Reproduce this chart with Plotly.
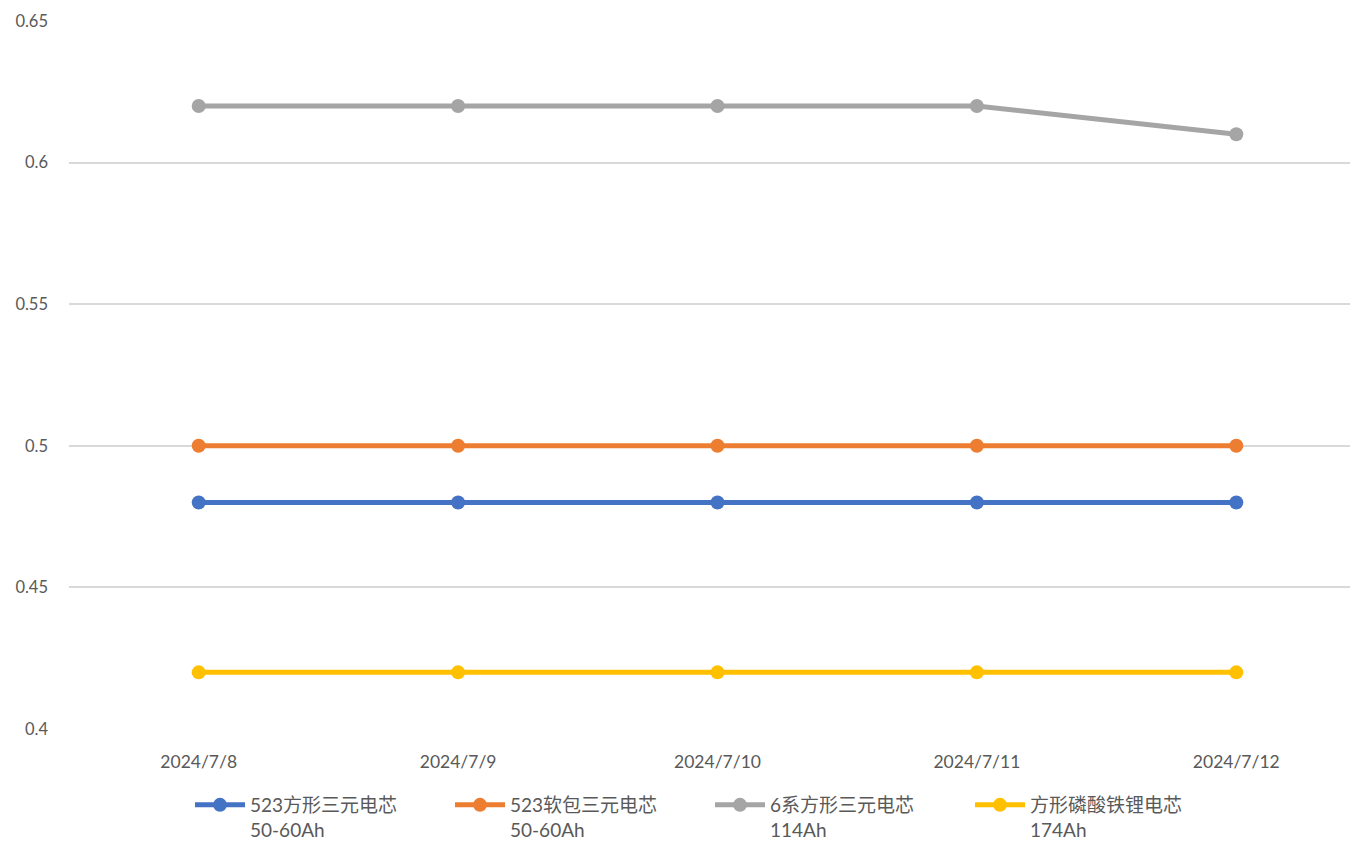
import plotly.graph_objects as go

dates = ["2024/7/8", "2024/7/9", "2024/7/10", "2024/7/11", "2024/7/12"]
series_names = [
    "523方形三元电芯<br>50-60Ah",
    "523软包三元电芯<br>50-60Ah",
    "6系方形三元电芯<br>114Ah",
    "方形磷酸铁锂电芯<br>174Ah",
]
s1 = [0.48, 0.48, 0.48, 0.48, 0.48]
s2 = [0.50, 0.50, 0.50, 0.50, 0.50]
s3 = [0.62, 0.62, 0.62, 0.62, 0.61]
s4 = [0.42, 0.42, 0.42, 0.42, 0.42]
colors = ["#4472C4", "#ED7D31", "#A5A5A5", "#FFC000"]

fig = go.Figure()
for name, vals, c in zip(series_names, [s1, s2, s3, s4], colors):
    fig.add_trace(go.Scatter(
        x=dates, y=vals, name=name, mode="lines+markers",
        line=dict(color=c, width=5),
        marker=dict(color=c, size=14),
    ))

font_family = "Lato, 'Noto Sans CJK SC', sans-serif"
fig.update_layout(
    width=1358, height=842,
    paper_bgcolor="white", plot_bgcolor="white",
    margin=dict(l=61, r=0, t=13, b=121),
    font=dict(family=font_family, size=16, color="#595959"),
    xaxis=dict(
        type="category", range=[-0.5, 4.5],
        showgrid=False, showline=False, zeroline=False,
        ticks="", ticklabelstandoff=20,
        tickfont=dict(size=17.5, color="#595959"),
    ),
    yaxis=dict(
        range=[0.4, 0.65], dtick=0.05, tick0=0.4,
        showgrid=True, gridcolor="#D9D9D9", gridwidth=1.6,
        zeroline=False, showline=False, ticks="",
        ticklabelstandoff=20,
        tickfont=dict(size=16.5, color="#595959"),
    ),
    legend=dict(
        orientation="h", x=0.0933, xanchor="left",
        yref="container", y=0.076, yanchor="top",
        entrywidth=195, entrywidthmode="pixels",
        valign="top", itemwidth=50,
        font=dict(family=font_family, size=19, color="#595959"),
        traceorder="normal",
    ),
    showlegend=True,
)

fig.write_html("out.html")
